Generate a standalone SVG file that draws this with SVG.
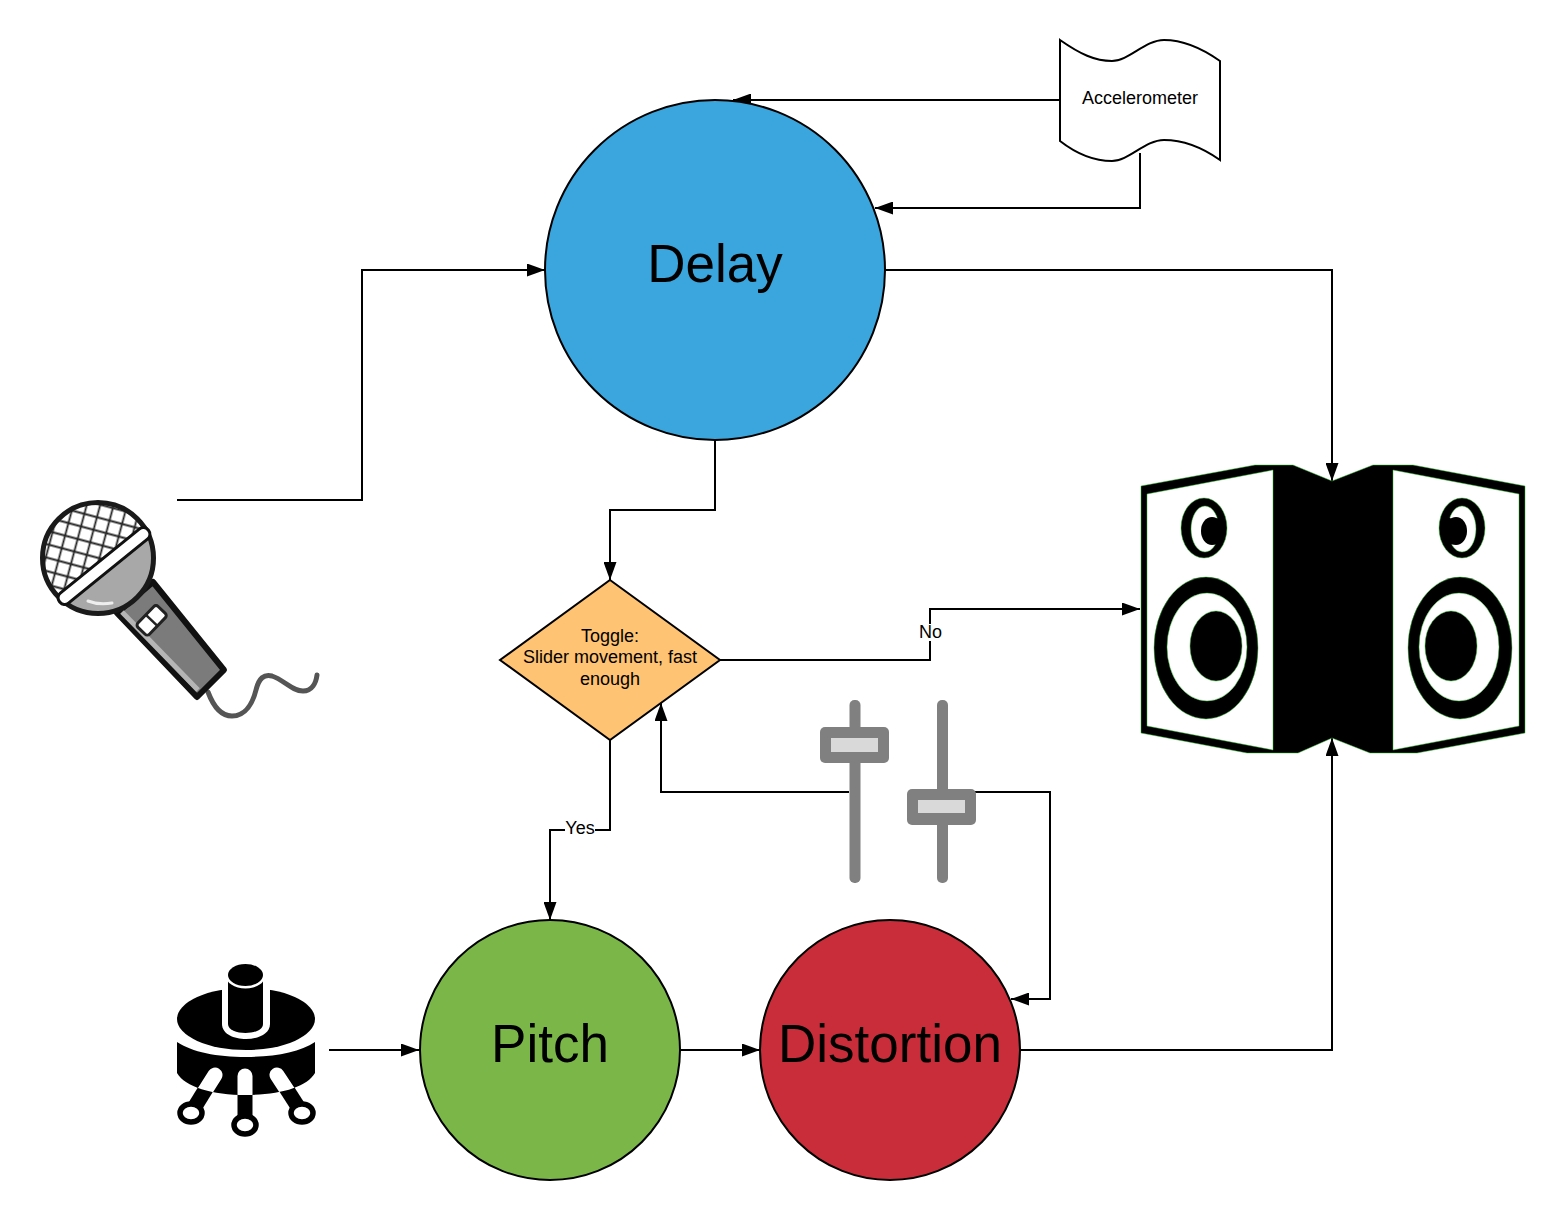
<svg xmlns="http://www.w3.org/2000/svg" width="1565" height="1220" viewBox="0 0 1565 1220">
<style>
text{font-family:"Liberation Sans",Arial,sans-serif;fill:#000;text-anchor:middle}
.big{font-size:53px}.small{font-size:18px}
.node{stroke:#000;stroke-width:2}
.conn{fill:none;stroke:#000;stroke-width:2;marker-end:url(#arrow)}
.spk{fill:#000;stroke:#35c035;stroke-width:.5}
.spw{fill:#fff;stroke:#35c035;stroke-width:.5}
.spi{fill:#000}
.track{fill:#808080}.knob{fill:#808080}.cap{fill:#d9d9d9}
</style>
<defs>
<marker id="arrow" markerUnits="userSpaceOnUse" viewBox="0 0 18 13" refX="18" refY="6.500" markerWidth="18" markerHeight="13" orient="auto"><path d="M0,0L18,6.500L0,13Z" fill="#000"/></marker>
<pattern id="mesh" width="13" height="13" patternUnits="userSpaceOnUse" patternTransform="rotate(15)"><rect width="13" height="13" fill="#fff"/><path d="M0,6.500H13M6.500,0V13" stroke="#222" stroke-width="1.800" fill="none"/></pattern>
<clipPath id="headTop"><path d="M30,620L160,515L160,480L30,480Z"/></clipPath>
<clipPath id="headBottom"><path d="M50,615L155,530L170,640L60,640Z"/></clipPath>
<clipPath id="potBody"><path d="M177,1042V1073C185,1087 212,1095 246,1095C280,1095 307,1087 315,1073V1042C300,1052 275,1057 246,1057C217,1057 192,1052 177,1042Z"/></clipPath>
</defs>
<g id="connectors">
<path class="conn" d="M177,500H362V270H545"/>
<path class="conn" d="M1060,100H733"/>
<path class="conn" d="M1140,153V208H875"/>
<path class="conn" d="M886,270H1332V481"/>
<path class="conn" d="M715,440V510H610V580"/>
<path class="conn" d="M720,660H930V609H1140"/>
<path class="conn" d="M610,740V830H550V920"/>
<path class="conn" d="M849,792H661V703"/>
<path class="conn" d="M975,792H1050V999H1011"/>
<path class="conn" d="M329,1050H419"/>
<path class="conn" d="M680,1050H760"/>
<path class="conn" d="M1020,1050H1332V738"/>
</g>
<g id="delay"><circle class="node" cx="715" cy="270" r="170" fill="#3aa6dd"/><text class="big" x="715" y="282">Delay</text></g>
<g id="pitch"><circle class="node" cx="550" cy="1050" r="130" fill="#7ab648"/><text class="big" x="550" y="1062">Pitch</text></g>
<g id="distortion"><circle class="node" cx="890" cy="1050" r="130" fill="#c92d39"/><text class="big" x="890" y="1062">Distortion</text></g>
<g id="toggle"><path class="node" d="M610,580L720,660L610,740L500,660Z" fill="#ffc374"/>
<text class="small" x="610" y="642">Toggle:</text><text class="small" x="610" y="663">Slider movement, fast</text><text class="small" x="610" y="685">enough</text></g>
<g id="accelerometer"><path class="node" fill="#fff" d="M1060,40C1080,54 1095,61 1112,61C1129,61 1145,40 1164,40C1184,40 1203,49 1220,61V160C1203,148 1184,140 1164,140C1145,140 1129,161 1112,161C1095,161 1078,155 1060,141Z"/><text class="small" x="1140" y="104">Accelerometer</text></g>
<g id="label-no"><rect x="918" y="624" width="25" height="17" fill="#fff"/><text class="small" x="930.500" y="638">No</text></g>
<g id="label-yes"><rect x="565" y="820" width="30" height="17" fill="#fff"/><text class="small" x="580" y="834">Yes</text></g>
<g id="microphone">
<path d="M208,692C214,708 222,716 232,716C246,716 253,702 256,690C259,678 264,674 272,676C284,680 292,691 303,691C312,691 316,683 317,675" fill="none" stroke="#555" stroke-width="5" stroke-linecap="round"/>
<path d="M117,613L153,582L224,670L197,697Z" fill="#7b7b7b" stroke="#111" stroke-width="6" stroke-linejoin="round"/>
<path d="M122,612L198,690" stroke="#b5b5b5" stroke-width="5" fill="none"/>
<circle cx="98" cy="558" r="55" fill="url(#mesh)" clip-path="url(#headTop)"/>
<circle cx="98" cy="558" r="55" fill="#a8a8a8" clip-path="url(#headBottom)"/>
<circle cx="98" cy="558" r="55.500" fill="none" stroke="#1a1a1a" stroke-width="5"/>
<path d="M88,601Q98,605 112,603" stroke="#eee" stroke-width="3" fill="none" stroke-linecap="round"/>
<rect x="47" y="559.500" width="114" height="13" rx="6" fill="#fff" stroke="#111" stroke-width="3" transform="rotate(-39 104 566)"/>
<g transform="rotate(44 152 620)"><rect x="144" y="606" width="16" height="29" rx="3" fill="#fff" stroke="#222" stroke-width="3"/><path d="M144,620.500H160" stroke="#222" stroke-width="2.500"/></g>
</g>
<g id="potentiometer">
<g fill="none" stroke="#000" stroke-width="15"><path d="M215,1074L191,1113"/><path d="M245,1074V1125"/><path d="M277,1074L302,1113"/></g>
<g fill="#fff" stroke="#000" stroke-width="5.500"><ellipse cx="191" cy="1113" rx="11" ry="9"/><ellipse cx="245" cy="1125" rx="11" ry="9"/><ellipse cx="302" cy="1113" rx="11" ry="9"/></g>
<path d="M177,1042V1073C185,1087 212,1095 246,1095C280,1095 307,1087 315,1073V1042C300,1052 275,1057 246,1057C217,1057 192,1052 177,1042Z" fill="#000"/>
<g clip-path="url(#potBody)" fill="none" stroke="#fff" stroke-width="15" stroke-linecap="round"><path d="M215,1075L191,1113"/><path d="M245,1076V1125"/><path d="M277,1075L302,1113"/></g>
<ellipse cx="246" cy="1019" rx="69" ry="31" fill="#000"/>
<path d="M222,980V1024C222,1044 270,1044 270,1024V980Z" fill="#fff"/>
<path d="M228,975H263V1024C263,1036 228,1036 228,1024Z" fill="#000"/>
<ellipse cx="245.500" cy="975" rx="20" ry="13.500" fill="#fff"/>
<ellipse cx="245.500" cy="975" rx="17.500" ry="11" fill="#000"/>
</g>
<g id="sliders">
<rect class="track" x="849.500" y="700" width="11" height="183" rx="5"/><rect class="knob" x="820" y="727" width="69" height="36" rx="5"/><rect class="cap" x="831" y="738" width="47" height="14"/>
<rect class="track" x="937" y="700" width="11" height="183" rx="5"/><rect class="knob" x="907" y="789" width="69" height="36" rx="5"/><rect class="cap" x="918" y="800" width="47" height="13"/>
</g>
<g id="speakers">
<path class="spk" d="M1141,486L1255,465H1293L1332,481L1373,465H1413L1525,486V733L1417,753H1370L1332,738L1298,753H1247L1141,733Z"/>
<path class="spw" d="M1147,494L1273,470V750L1147,726Z"/>
<path class="spw" d="M1393,470L1519,494V726L1393,750Z"/>
<ellipse class="spk" cx="1204" cy="528" rx="23" ry="30"/><ellipse class="spw" cx="1205" cy="529" rx="14" ry="23"/><ellipse class="spi" cx="1212" cy="531" rx="11" ry="14"/><path class="spi" d="M1213,520L1221,517L1220,545L1213,544Z"/>
<ellipse class="spk" cx="1206" cy="648" rx="52" ry="71"/><ellipse class="spw" cx="1207" cy="647" rx="40" ry="54"/><ellipse class="spk" cx="1216" cy="646" rx="26" ry="35"/>
<ellipse class="spk" cx="1462" cy="528" rx="23" ry="30"/><ellipse class="spw" cx="1462" cy="529" rx="14" ry="23"/><ellipse class="spi" cx="1456" cy="531" rx="11" ry="14"/><path class="spi" d="M1455,520L1447,517L1448,545L1455,544Z"/>
<ellipse class="spk" cx="1460" cy="648" rx="52" ry="71"/><ellipse class="spw" cx="1459" cy="647" rx="40" ry="54"/><ellipse class="spk" cx="1451" cy="646" rx="26" ry="35"/>
</g>
</svg>
